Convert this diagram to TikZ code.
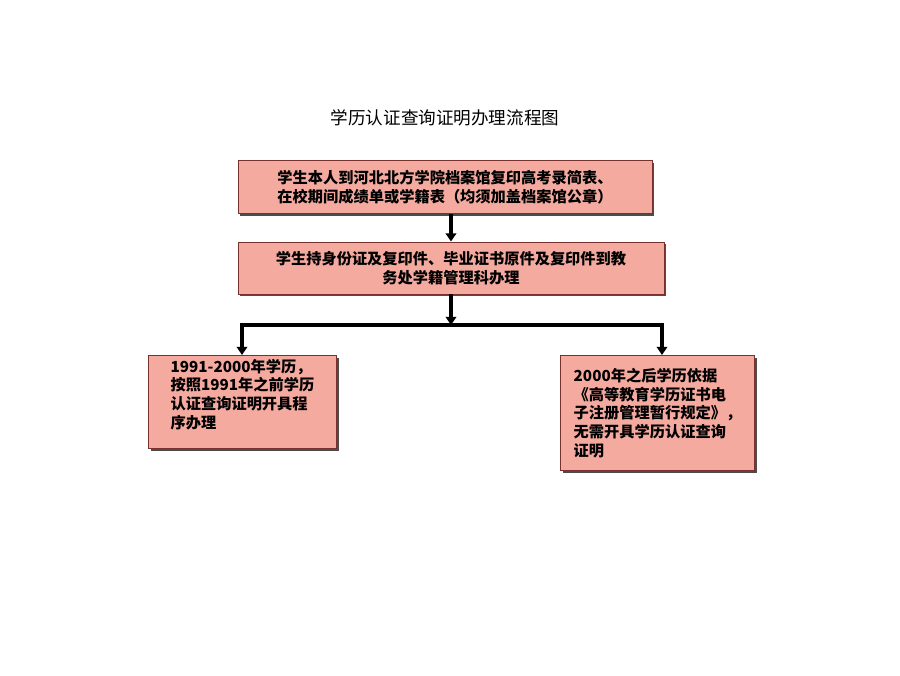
\documentclass[tikz,border=0pt]{standalone}
\usepackage{fontspec}
\newfontfamily\cjk{Noto Sans CJK SC}
\usetikzlibrary{arrows.meta,shadows}
\definecolor{boxfill}{RGB}{245,170,160}
\definecolor{boxline}{RGB}{120,50,45}
\tikzset{
  flowbox/.style={draw=boxline, fill=boxfill, line width=0.8pt, inner sep=2pt,
    font=\cjk\bfseries\fontsize{13}{16}\selectfont,
    drop shadow={shadow xshift=2pt, shadow yshift=-2pt, fill=black!70, opacity=1}},
  flowarrow/.style={line width=3pt, -{Triangle[width=9pt,length=7pt]}},
  flowline/.style={line width=3pt}
}
\begin{document}
\begin{tikzpicture}[x=0.03cm, y=-0.03cm]
    \useasboundingbox (0,0) rectangle (900,675);
    \node [font=\cjk\fontsize{15}{18}\selectfont] (title) at (445,118) {学历认证查询证明办理流程图};
    \node [flowbox, minimum width=414*0.03cm, minimum height=53*0.03cm, align=center] (archive) at (445,187)
        {学生本人到河北北方学院档案馆复印高考录简表、\\在校期间成绩单或学籍表（均须加盖档案馆公章）};
    \node [flowbox, minimum width=426*0.03cm, minimum height=52*0.03cm, align=center] (office) at (451,268)
        {学生持身份证及复印件、毕业证书原件及复印件到教\\务处学籍管理科办理};
    \node [flowbox, minimum width=188*0.03cm, minimum height=93*0.03cm, align=left, anchor=north west] (before) at (148,355)
        {1991-2000年学历，\\按照1991年之前学历\\认证查询证明开具程\\序办理\\[-2pt]};
    \node [flowbox, minimum width=194*0.03cm, minimum height=115*0.03cm, align=left, anchor=north west] (after) at (560,355)
        {2000年之后学历依据\\《高等教育学历证书电\\子注册管理暂行规定》，\\无需开具学历认证查询\\证明};
    \coordinate (split) at (451,325);
    \coordinate (splitL) at (242,325);
    \coordinate (splitR) at (662,325);
    \draw [flowarrow] (archive.south -| 451,0) -- (office.north);
    \draw [flowarrow] (office.south) -- (split);
    \draw [flowline] ([xshift=-1.5pt]splitL) -- ([xshift=1.5pt]splitR);
    \draw [flowarrow] (splitL) -- (before.north -| splitL);
    \draw [flowarrow] (splitR) -- (after.north -| splitR);
\end{tikzpicture}
\end{document}
